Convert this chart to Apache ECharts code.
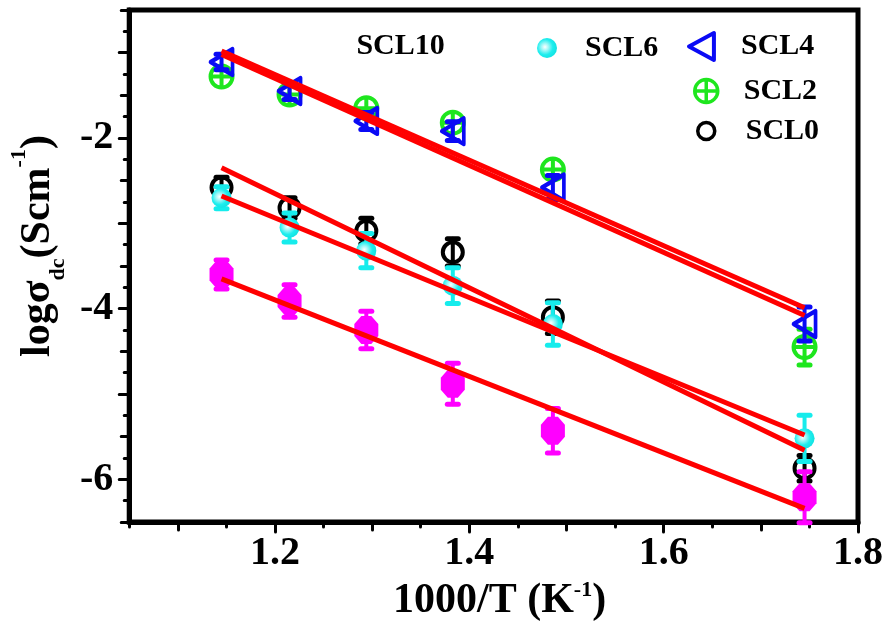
<!DOCTYPE html>
<html><head><meta charset="utf-8">
<script src="https://cdn.jsdelivr.net/npm/echarts@6/dist/echarts.min.js"></script>
<style>html,body{margin:0;padding:0;background:#fff}#c{width:890px;height:628px}</style>
</head><body><div id="c"></div>
<script>
// ---- data ----
const xValues = [1.145, 1.215, 1.294, 1.383, 1.486, 1.745];
const scl0 = [-2.58, -2.82, -3.09, -3.34, -4.10, -5.87];
const scl0Err = [0.12, 0.12, 0.15, 0.16, 0.19, 0.15];
const scl2 = [-1.28, -1.49, -1.65, -1.82, -2.37, -4.45];
const scl2Err = [0.07, 0.07, 0.08, 0.08, 0.10, 0.21];
const scl4 = [-1.11, -1.45, -1.80, -1.92, -2.58, -4.18];
const scl4Err = [0.09, 0.10, 0.10, 0.11, 0.14, 0.20];
const scl6 = [-2.70, -3.05, -3.32, -3.73, -4.18, -5.52];
const scl6Err = [0.13, 0.17, 0.20, 0.21, 0.25, 0.27];
const scl10 = [-3.60, -3.91, -4.25, -4.88, -5.43, -6.21];
const scl10Err = [0.17, 0.19, 0.22, 0.24, 0.26, 0.30];
// fitted lines: end-point values at the first and last x
const fitX = [1.145, 1.745];
const fitScl0 = [-2.35, -5.66];
const fitScl2 = [-1.02, -4.08];
const fitScl4 = [-0.98, -3.99];
const fitScl6 = [-2.68, -5.48];
const fitScl10 = [-3.65, -6.34];
// ticks
const xTickLabels = [1.2, 1.4, 1.6, 1.8];
const xMidTicks = [1.1, 1.3, 1.5, 1.7];
const xMinorTicks = [1.05, 1.15, 1.25, 1.35, 1.45, 1.55, 1.65, 1.75];
const yTickLabels = [-6, -4, -2];
const yMajorTicks = [-6, -5, -4, -3, -2, -1];
const yHalfTicks = [-6.5, -5.5, -4.5, -3.5, -2.5, -1.5, -0.5];
const yQuarterTicks = [-6.25, -5.75, -5.25, -4.75, -4.25, -3.75, -3.25, -2.75, -2.25, -1.75, -1.25, -0.75];

const FONT = 'Liberation Serif';
const C = {scl0:'#000000', scl2:'#1ee61e', scl4:'#0a0af5', scl6:'#16ecec', scl10:'#ff00ff', fit:'#ff0000'};

function pairs(ys){ return xValues.map((x,i)=>[x, ys[i]]); }
function errSeries(ys, errs, color, z){
  return {
    type:'custom', silent:true, z:z, animation:false,
    data: xValues.map((x,i)=>[x, ys[i], errs[i]]),
    renderItem(params, api){
      const x=api.value(0), y=api.value(1), e=api.value(2);
      const t=api.coord([x, y+e]), b=api.coord([x, y-e]);
      const hw=5.5;
      const st={stroke:color, lineWidth:4, lineCap:'round'};
      return {type:'group', children:[
        {type:'line', shape:{x1:t[0],y1:t[1],x2:b[0],y2:b[1]}, style:st},
        {type:'line', shape:{x1:t[0]-hw,y1:t[1],x2:t[0]+hw,y2:t[1]}, style:{stroke:color,lineWidth:5,lineCap:'round'}},
        {type:'line', shape:{x1:b[0]-hw,y1:b[1],x2:b[0]+hw,y2:b[1]}, style:{stroke:color,lineWidth:5,lineCap:'round'}}
      ]};
    }
  };
}
function fitSeries(name, vals){
  return {type:'line', name:name, z:20, silent:true, showSymbol:false, symbol:'none',
    data: fitX.map((x,i)=>[x, vals[i]]),
    lineStyle:{color:C.fit, width:5}};
}

const tickStyle = {color:'#000', width:3, cap:'round'};
function hiddenX(vals, len){
  return {type:'value', min:1.05, max:1.8, position:'bottom', axisLine:{show:false, onZero:false},
    splitLine:{show:false}, axisLabel:{show:false},
    axisTick:{show:true, customValues:vals, length:len, lineStyle:tickStyle}};
}
function hiddenY(vals, len){
  return {type:'value', min:-6.5, max:-0.5, position:'left', axisLine:{show:false, onZero:false},
    splitLine:{show:false}, axisLabel:{show:false},
    axisTick:{show:true, customValues:vals, length:len, lineStyle:tickStyle}};
}

const legendText = {fontSize:30, fontWeight:'bold', fontFamily:FONT, color:'#000'};
function leg(name, left, top, w, h, pad, extra){
  return Object.assign({
    data:[name], left:left, top:top, itemWidth:w, itemHeight:h, selectedMode:false,
    padding:0, textStyle:Object.assign({}, legendText, {padding:[0,0,0,pad]})
  }, extra||{});
}

const chart = echarts.init(document.getElementById('c'), null, {renderer:'canvas'});
chart.setOption({
  animation:false,
  backgroundColor:'#fff',
  grid:{left:128, right:32, top:10, bottom:106, show:true, borderColor:'#000', borderWidth:5, backgroundColor:'transparent'},
  xAxis:[
    {type:'value', min:1.05, max:1.8, position:'bottom',
      axisLine:{show:true, onZero:false, lineStyle:{color:'#000', width:5}},
      splitLine:{show:false},
      axisTick:{show:true, customValues:xTickLabels, length:10, lineStyle:tickStyle},
      axisLabel:{customValues:xTickLabels, margin:12, fontSize:40, fontWeight:'bold', fontFamily:FONT, color:'#000',
        formatter:v=>v.toFixed(1)},
      name:'{a|1000/T (K}{s|-1}{a|)}', nameLocation:'middle', nameGap:56,
      nameTextStyle:{padding:[0,0,0,12], rich:{
        a:{fontSize:42, fontWeight:'bold', fontFamily:FONT, color:'#000', lineHeight:44, verticalAlign:'middle'},
        s:{fontSize:22, fontWeight:'bold', fontFamily:FONT, color:'#000', lineHeight:25, verticalAlign:'top'}}}
    },
    hiddenX(xMidTicks, 8),
    hiddenX(xMinorTicks, 5)
  ],
  yAxis:[
    {type:'value', min:-6.5, max:-0.5, position:'left',
      axisLine:{show:true, onZero:false, lineStyle:{color:'#000', width:5}},
      splitLine:{show:false},
      axisTick:{show:true, customValues:yMajorTicks, length:10, lineStyle:tickStyle},
      axisLabel:{customValues:yTickLabels, margin:16, fontSize:40, fontWeight:'bold', fontFamily:FONT, color:'#000'},
      name:'{a|logσ}{b|dc}{a|(Scm}{s|-1}{a|)}', nameLocation:'middle', nameGap:58, nameRotate:90,
      nameTextStyle:{padding:[0,0,0,40], rich:{
        a:{fontSize:42, fontWeight:'bold', fontFamily:FONT, color:'#000', lineHeight:61, verticalAlign:'middle'},
        b:{fontSize:22, fontWeight:'bold', fontFamily:FONT, color:'#000', lineHeight:17, verticalAlign:'bottom'},
        s:{fontSize:22, fontWeight:'bold', fontFamily:FONT, color:'#000', lineHeight:10, verticalAlign:'top'}}}
    },
    hiddenY(yHalfTicks, 8),
    hiddenY(yQuarterTicks, 5)
  ],
  legend:[
    leg('SCL10', 331, 31, 22, 22, 0, {data:[{name:'SCL10', itemStyle:{opacity:0}}]}),
    leg('SCL6', 537, 33, 20, 20, 23),
    leg('SCL4', 687, 31, 25, 27, 22, {itemStyle:{borderWidth:4}}),
    leg('SCL2', 693, 76, 23, 23, 21, {itemStyle:{borderWidth:3.5}}),
    leg('SCL0', 696, 116, 17, 17, 26, {itemStyle:{borderWidth:3.5}})
  ],
  series:[
    errSeries(scl0, scl0Err, C.scl0, 2),
    {type:'scatter', name:'SCL0', z:3, data:pairs(scl0), symbol:'circle', symbolSize:20,
      itemStyle:{color:'rgba(255,255,255,0)', borderColor:C.scl0, borderWidth:4, opacity:1}},
    errSeries(scl6, scl6Err, C.scl6, 4),
    {type:'scatter', name:'SCL6', z:5, data:pairs(scl6), symbol:'circle', symbolSize:20,
      itemStyle:{opacity:1, color:{type:'radial', x:0.4, y:0.45, r:0.6, colorStops:[
        {offset:0, color:'#ffffff'}, {offset:0.3, color:'#9ff7f7'}, {offset:0.65, color:'#1eeeee'}, {offset:1, color:'#12e2e2'}]}}},
    errSeries(scl10, scl10Err, C.scl10, 6),
    {type:'scatter', name:'SCL10', z:7, data:pairs(scl10),
      symbol:'path://M7,0 L17,0 L24,8 L24,20 L17,28 L7,28 L0,20 L0,8 Z', symbolSize:[24,28],
      itemStyle:{color:C.scl10, opacity:1}},
    errSeries(scl2, scl2Err, C.scl2, 8),
    {type:'scatter', name:'SCL2', z:9, data:pairs(scl2),
      symbol:'path://M0,12 A12,12 0 1,1 24,12 A12,12 0 1,1 0,12 Z M12,0 L12,24 M0,12 L24,12', symbolSize:22,
      itemStyle:{color:'#ffffff', borderColor:C.scl2, borderWidth:4, opacity:1}},
    errSeries(scl4, scl4Err, C.scl4, 10),
    {type:'scatter', name:'SCL4', z:11, data:pairs(scl4),
      symbol:'path://M0,13 L24,0 L24,26 Z', symbolSize:[22,26],
      itemStyle:{color:'rgba(255,255,255,0)', borderColor:C.scl4, borderWidth:4, borderJoin:'round', opacity:1}},
    fitSeries('fit SCL0', fitScl0),
    fitSeries('fit SCL6', fitScl6),
    fitSeries('fit SCL10', fitScl10),
    fitSeries('fit SCL2', fitScl2),
    fitSeries('fit SCL4', fitScl4)
  ]
});
</script></body></html>
